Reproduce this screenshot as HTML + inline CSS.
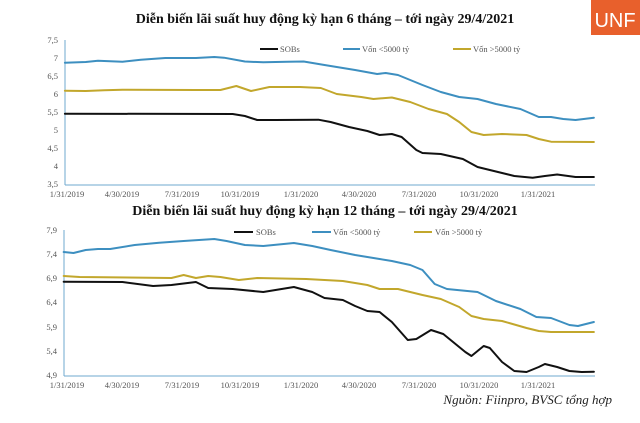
<!DOCTYPE html>
<html><head><meta charset="utf-8"><style>
body{margin:0;background:#fff;}
svg{display:block;font-family:"Liberation Serif",serif;}
</style></head><body>
<svg width="640" height="423" viewBox="0 0 640 423" xmlns="http://www.w3.org/2000/svg">
<rect width="640" height="423" fill="#fff"/>
<rect x="591" y="0" width="49" height="35" fill="#e8602c"/>
<text x="615" y="27" font-family="Liberation Sans,sans-serif" font-size="20" fill="#fff" text-anchor="middle">UNF</text>
<text x="325" y="23" font-size="14" font-weight="bold" text-anchor="middle" fill="#111">Diễn biến lãi suất huy động kỳ hạn 6 tháng – tới ngày 29/4/2021</text>
<text x="325" y="215" font-size="14" font-weight="bold" text-anchor="middle" fill="#111">Diễn biến lãi suất huy động kỳ hạn 12 tháng – tới ngày 29/4/2021</text>
<g font-size="8.5" fill="#555">
<g text-anchor="end">
<text x="58" y="43">7,5</text><text x="58" y="61">7</text><text x="58" y="79">6,5</text><text x="58" y="97">6</text>
<text x="58" y="115">5,5</text><text x="58" y="133">5</text><text x="58" y="151">4,5</text><text x="58" y="169">4</text><text x="58" y="187">3,5</text>
</g>
<line x1="65" y1="40" x2="65" y2="185" stroke="#6fa8cf" stroke-width="1"/>
<line x1="65" y1="185" x2="595" y2="185" stroke="#6fa8cf" stroke-width="1"/>
<g text-anchor="middle">
<text x="67" y="197">1/31/2019</text><text x="122" y="197">4/30/2019</text><text x="182" y="197">7/31/2019</text><text x="240" y="197">10/31/2019</text><text x="301" y="197">1/31/2020</text><text x="359" y="197">4/30/2020</text><text x="419" y="197">7/31/2020</text><text x="479" y="197">10/31/2020</text><text x="538" y="197">1/31/2021</text>
</g>
<g text-anchor="end">
<text x="57" y="233">7,9</text><text x="57" y="257">7,4</text><text x="57" y="281">6,9</text><text x="57" y="305">6,4</text><text x="57" y="330">5,9</text><text x="57" y="354">5,4</text><text x="57" y="378">4,9</text>
</g>
<line x1="64" y1="230" x2="64" y2="376" stroke="#6fa8cf" stroke-width="1"/>
<line x1="64" y1="376" x2="595" y2="376" stroke="#6fa8cf" stroke-width="1"/>
<g text-anchor="middle">
<text x="67" y="388">1/31/2019</text><text x="122" y="388">4/30/2019</text><text x="182" y="388">7/31/2019</text><text x="240" y="388">10/31/2019</text><text x="301" y="388">1/31/2020</text><text x="359" y="388">4/30/2020</text><text x="419" y="388">7/31/2020</text><text x="479" y="388">10/31/2020</text><text x="538" y="388">1/31/2021</text>
</g>
<line x1="260" y1="49" x2="278" y2="49" stroke="#111" stroke-width="2"/><text x="280" y="52">SOBs</text>
<line x1="343" y1="49" x2="360" y2="49" stroke="#3d8fc0" stroke-width="2"/><text x="362" y="52">Vốn &lt;5000 tỷ</text>
<line x1="453" y1="49" x2="471" y2="49" stroke="#c2a72c" stroke-width="2"/><text x="473" y="52">Vốn &gt;5000 tỷ</text>
<line x1="234" y1="232" x2="253" y2="232" stroke="#111" stroke-width="2"/><text x="256" y="235">SOBs</text>
<line x1="312" y1="232" x2="331" y2="232" stroke="#3d8fc0" stroke-width="2"/><text x="333" y="235">Vốn &lt;5000 tỷ</text>
<line x1="414" y1="232" x2="432" y2="232" stroke="#c2a72c" stroke-width="2"/><text x="435" y="235">Vốn &gt;5000 tỷ</text>
</g>
<g fill="none" stroke-width="2" stroke-linejoin="round" stroke-linecap="round" transform="scale(1.2245,1)">
<polyline vector-effect="non-scaling-stroke" stroke="#3d8fc0" points="53,62.7 70,62 80,60.7 100,61.7 115,59.7 135,58 160,58 175,57 183,57.7 200,61.5 215,62.3 235,61.7 248,61.5 265,65 290,70 308,74 315,73 325,75 345,85 360,92 375,97 390,99 405,104 425,109 440,117 450,117 460,119 470,120 485,117.7"/>
<polyline vector-effect="non-scaling-stroke" stroke="#c2a72c" points="53,90.7 70,91 85,90.3 100,89.7 160,90 180,90 193,86 205,91 220,87 245,87 262,88 275,94 295,97 305,99 320,97.5 335,102 350,109 365,114 375,122 385,132 395,135 410,134 430,135 440,139 450,141.7 485,142"/>
<polyline vector-effect="non-scaling-stroke" stroke="#111" points="53,113.7 190,114 200,116 210,120 225,120 260,119.7 270,122 285,127 300,131 310,135 320,134 328,137 340,150 345,153 360,154 378,159 390,167 400,170 420,176 435,177.7 445,176 455,174.5 470,177 485,177"/>
<polyline vector-effect="non-scaling-stroke" stroke="#3d8fc0" points="52,252 60,253 70,250 80,249 90,249 110,245 130,242.7 150,241 175,239 185,241 200,245 215,246 240,243 255,246 270,250 290,255 310,259 320,261 335,265 345,270 355,284 365,289 390,292 405,301 425,309 438,317 450,318 465,325 472,326 485,322"/>
<polyline vector-effect="non-scaling-stroke" stroke="#c2a72c" points="52,276 65,277 140,278 150,275 160,278 170,276 180,277 195,280 210,278 250,279 280,281 300,285 310,289 325,289 345,295 360,299 375,307 385,316 395,319 410,321 430,328 440,331 450,332 485,332"/>
<polyline vector-effect="non-scaling-stroke" stroke="#111" points="52,281.7 100,282 125,286 140,285 160,282 170,288 190,289 215,292 240,287 255,292 265,298 280,300 290,306 300,311 310,312 320,322 333,340 340,339 352,330 362,334 380,352 385,356 395,346 400,348 410,362 420,371 430,372 440,367 445,364 455,367 465,371 475,372 485,371.7"/>
</g>
<text x="612" y="404" font-size="13" font-style="italic" text-anchor="end" fill="#222">Nguồn: Fiinpro, BVSC tổng hợp</text>
</svg>
</body></html>
